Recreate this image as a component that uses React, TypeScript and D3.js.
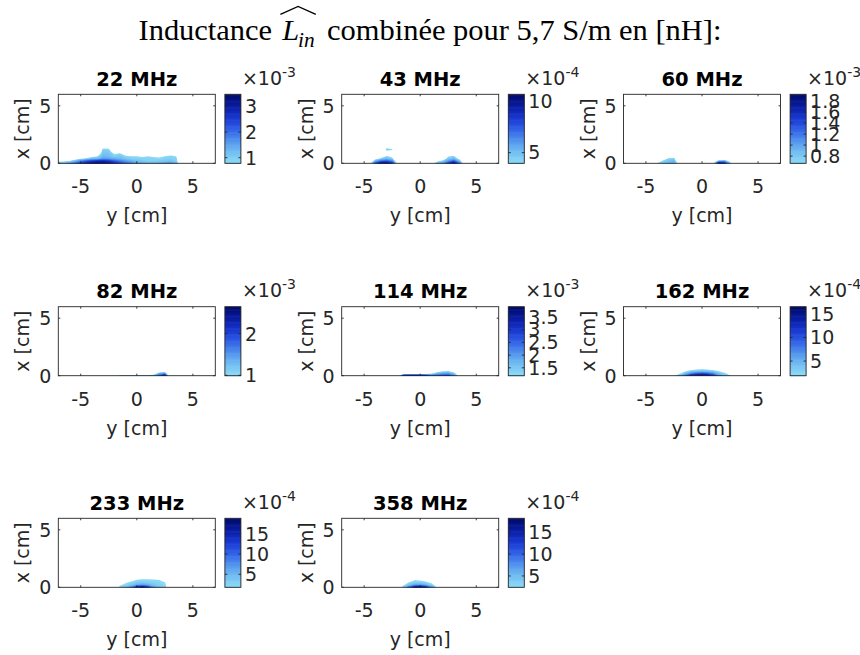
import React, { useEffect, useRef } from "react";
import * as d3 from "d3";

// ---------- data ----------
const titles = ["22 MHz", "43 MHz", "60 MHz", "82 MHz", "114 MHz", "162 MHz", "233 MHz", "358 MHz"];
const exponents = [-3, -4, -3, -3, -3, -4, -4, -4];
const colorMin = [0.78, 3.96, 0.67, 0.99, 1.19, 1.9, 1.8, 2.4];
const colorMax = [3.48, 10.7, 1.92, 2.65, 3.9, 16.5, 18.8, 18.2];
const colorbarTicks = [
  [1, 2, 3],
  [5, 10],
  [0.8, 1, 1.2, 1.4, 1.6, 1.8],
  [1, 2],
  [1.5, 2, 2.5, 3, 3.5],
  [5, 10, 15],
  [5, 10, 15],
  [5, 10, 15],
];
const xTicks = [-5, 0, 5];
const yTicks = [0, 5];
// horizontal grid positions (y [cm]) and vertical grid positions (x [cm])
const yPositions = [-7, -6.5, -6, -5.5, -5, -4.5, -4, -3.5, -3, -2.5, -2, -1.5, -1, -0.5, 0, 0.5, 1, 1.5, 2, 2.5, 3, 3.5, 4, 4.5, 5, 5.5, 6, 6.5, 7];
const xPositions = [0, 0.2, 0.4, 0.6, 0.8, 1.0, 1.2, 1.4];

// values (in units of 10^exponent), one row per xPositions entry
const grid22 = [
  [1.0, 1.2, 1.6, 2.0, 2.6, 3.0, 3.3, 3.45, 3.4, 3.2, 2.8, 2.4, 2.1, 1.8, 1.5, 1.3, 1.2, 1.2, 1.3, 1.5, 1.6, 1.3, 0, 0, 0, 0, 0, 0, 0],
  [0.7, 0.65, 0.8, 1.3, 1.8, 2.2, 2.5, 2.7, 2.8, 2.6, 2.2, 1.9, 1.6, 1.4, 1.2, 1.1, 1.0, 1.0, 1.05, 1.1, 1.2, 1.0, 0, 0, 0, 0, 0, 0, 0],
  [0, 0, 0, 0.3, 0.7, 0.95, 1.2, 1.3, 1.6, 1.5, 1.4, 1.3, 1.1, 1.0, 0.95, 0.9, 0.95, 0.9, 0.85, 0.95, 1.0, 0.95, 0, 0, 0, 0, 0, 0, 0],
  [0, 0, 0, 0, 0.2, 0.27, 0.64, 0.8, 1.3, 1.25, 1.0, 1.1, 0.9, 0.82, 0.8, 0.74, 0.8, 0.74, 0.71, 0.8, 0.9, 0.8, 0, 0, 0, 0, 0, 0, 0],
  [0, 0, 0, 0, 0, 0, 0.3, 0.4, 1.2, 1.15, 0.79, 0.9, 0.5, 0.4, 0.35, 0.3, 0.35, 0.3, 0.3, 0.35, 0.6, 0.4, 0, 0, 0, 0, 0, 0, 0],
  [0, 0, 0, 0, 0, 0, 0, 0, 1.1, 1.05, 0.4, 0.6, 0.2, 0, 0, 0, 0, 0, 0, 0, 0, 0, 0, 0, 0, 0, 0, 0, 0],
  [0, 0, 0, 0, 0, 0, 0, 0, 0.95, 0.9, 0, 0, 0, 0, 0, 0, 0, 0, 0, 0, 0, 0, 0, 0, 0, 0, 0, 0, 0],
  [0, 0, 0, 0, 0, 0, 0, 0, 0.6, 0.5, 0, 0, 0, 0, 0, 0, 0, 0, 0, 0, 0, 0, 0, 0, 0, 0, 0, 0, 0],
];
const grid43 = [
  [0, 0, 0, 0, 0, 3.0, 8, 10.5, 10.5, 9, 3.0, 0, 0, 0, 0, 0, 3.0, 5, 6, 8.5, 10.5, 7, 2, 0, 0, 0, 0, 0, 0],
  [0, 0, 0, 0, 0, 1.5, 5.5, 7, 7.5, 6.5, 1.5, 0, 0, 0, 0, 0, 1.5, 3.5, 4.5, 6, 7.5, 5, 1, 0, 0, 0, 0, 0, 0],
  [0, 0, 0, 0, 0, 0, 3, 4.5, 5.2, 4.5, 0.5, 0, 0, 0, 0, 0, 0, 1, 2.5, 4.8, 5.2, 3.5, 0, 0, 0, 0, 0, 0, 0],
  [0, 0, 0, 0, 0, 0, 0, 2.5, 4.3, 3.5, 0, 0, 0, 0, 0, 0, 0, 0, 0, 3.9, 4.4, 2, 0, 0, 0, 0, 0, 0, 0],
  [0, 0, 0, 0, 0, 0, 0, 0, 2, 1, 0, 0, 0, 0, 0, 0, 0, 0, 0, 0, 2, 0, 0, 0, 0, 0, 0, 0, 0],
  [0, 0, 0, 0, 0, 0, 0, 0, 3.5, 3.0, 0, 0, 0, 0, 0, 0, 0, 0, 0, 0, 0, 0, 0, 0, 0, 0, 0, 0, 0],
  [0, 0, 0, 0, 0, 0, 0, 0, 4.6, 4.2, 0, 0, 0, 0, 0, 0, 0, 0, 0, 0, 0, 0, 0, 0, 0, 0, 0, 0, 0],
  [0, 0, 0, 0, 0, 0, 0, 0, 3.5, 3.0, 0, 0, 0, 0, 0, 0, 0, 0, 0, 0, 0, 0, 0, 0, 0, 0, 0, 0, 0],
];
const grid60 = [
  [0, 0, 0, 0, 0, 0, 0.7, 0.8, 0.9, 0.95, 0.5, 0, 0, 0, 0, 0, 0.6, 1.85, 1.7, 0.85, 0, 0, 0, 0, 0, 0, 0, 0, 0],
  [0, 0, 0, 0, 0, 0, 0.3, 0.72, 0.85, 0.9, 0.3, 0, 0, 0, 0, 0, 0.3, 0.9, 1.0, 0.5, 0, 0, 0, 0, 0, 0, 0, 0, 0],
  [0, 0, 0, 0, 0, 0, 0, 0.5, 0.72, 0.78, 0, 0, 0, 0, 0, 0, 0, 0, 0, 0, 0, 0, 0, 0, 0, 0, 0, 0, 0],
  [0, 0, 0, 0, 0, 0, 0, 0, 0.4, 0.5, 0, 0, 0, 0, 0, 0, 0, 0, 0, 0, 0, 0, 0, 0, 0, 0, 0, 0, 0],
];
const grid82 = [
  [0, 0, 0, 0, 0, 0, 0, 0, 0, 0, 0, 1.2, 1.2, 1.2, 1.2, 1.2, 1.2, 1.3, 1.9, 2.6, 0, 0, 0, 0, 0, 0, 0, 0, 0],
  [0, 0, 0, 0, 0, 0, 0, 0, 0, 0, 0, 0.5, 0.5, 0.5, 0.5, 0.5, 0.5, 0.6, 1.3, 1.5, 0, 0, 0, 0, 0, 0, 0, 0, 0],
  [0, 0, 0, 0, 0, 0, 0, 0, 0, 0, 0, 0, 0, 0, 0, 0, 0, 0, 0.5, 0.6, 0, 0, 0, 0, 0, 0, 0, 0, 0],
];
const grid114 = [
  [0, 0, 0, 0, 0, 0, 0, 0, 0, 0, 0, 3.5, 3.8, 3.8, 3.7, 3.5, 2.5, 2.6, 2.8, 2.9, 2.2, 0.8, 0, 0, 0, 0, 0, 0, 0],
  [0, 0, 0, 0, 0, 0, 0, 0, 0, 0, 0, 0.5, 0.5, 0.5, 0.5, 0.5, 1.0, 1.6, 1.9, 2.0, 1.5, 0.5, 0, 0, 0, 0, 0, 0, 0],
  [0, 0, 0, 0, 0, 0, 0, 0, 0, 0, 0, 0, 0, 0, 0, 0, 0, 0.8, 1.1, 1.2, 0.8, 0, 0, 0, 0, 0, 0, 0, 0],
];
const grid162 = [
  [0, 0, 0, 0, 0, 0, 0, 0, 0, 1.5, 4, 9, 14, 16, 16.4, 16, 13, 7, 4, 2.2, 0, 0, 0, 0, 0, 0, 0, 0, 0],
  [0, 0, 0, 0, 0, 0, 0, 0, 0, 0, 1.5, 4, 7, 9, 10, 9, 7, 4, 2.5, 1, 0, 0, 0, 0, 0, 0, 0, 0, 0],
  [0, 0, 0, 0, 0, 0, 0, 0, 0, 0, 0, 1.5, 3, 3.5, 3.8, 3.5, 3, 1.8, 0, 0, 0, 0, 0, 0, 0, 0, 0, 0, 0],
  [0, 0, 0, 0, 0, 0, 0, 0, 0, 0, 0, 0, 0, 1.2, 1.4, 1.2, 0, 0, 0, 0, 0, 0, 0, 0, 0, 0, 0, 0, 0],
];
const grid233 = [
  [0, 0, 0, 0, 0, 0, 0, 0, 0, 0, 0, 2.5, 4, 8, 16, 18.5, 14, 7, 4, 2.5, 0, 0, 0, 0, 0, 0, 0, 0, 0],
  [0, 0, 0, 0, 0, 0, 0, 0, 0, 0, 0, 1.5, 2.5, 4, 6, 7, 6, 4, 3, 2.2, 0, 0, 0, 0, 0, 0, 0, 0, 0],
  [0, 0, 0, 0, 0, 0, 0, 0, 0, 0, 0, 0, 1.6, 2.5, 3.5, 3.8, 3.5, 3, 2.6, 2.0, 0, 0, 0, 0, 0, 0, 0, 0, 0],
  [0, 0, 0, 0, 0, 0, 0, 0, 0, 0, 0, 0, 0, 1.2, 2.2, 2.4, 2.3, 2.2, 2.0, 1.0, 0, 0, 0, 0, 0, 0, 0, 0, 0],
  [0, 0, 0, 0, 0, 0, 0, 0, 0, 0, 0, 0, 0, 0, 1.0, 1.2, 1.2, 1.2, 1.0, 0, 0, 0, 0, 0, 0, 0, 0, 0, 0],
];
const grid358 = [
  [0, 0, 0, 0, 0, 0, 0, 0, 0, 0, 0, 3.5, 10, 17, 18, 15, 8, 2.0, 0, 0, 0, 0, 0, 0, 0, 0, 0, 0, 0],
  [0, 0, 0, 0, 0, 0, 0, 0, 0, 0, 0, 2.0, 4.5, 7, 7.5, 6, 3.5, 1, 0, 0, 0, 0, 0, 0, 0, 0, 0, 0, 0],
  [0, 0, 0, 0, 0, 0, 0, 0, 0, 0, 0, 0, 2.8, 4, 3.8, 3.2, 2.0, 0, 0, 0, 0, 0, 0, 0, 0, 0, 0, 0, 0],
  [0, 0, 0, 0, 0, 0, 0, 0, 0, 0, 0, 0, 0, 2.6, 2.3, 1.5, 0, 0, 0, 0, 0, 0, 0, 0, 0, 0, 0, 0, 0],
  [0, 0, 0, 0, 0, 0, 0, 0, 0, 0, 0, 0, 0, 1.0, 0.8, 0, 0, 0, 0, 0, 0, 0, 0, 0, 0, 0, 0, 0, 0],
];
const grids = [grid22, grid43, grid60, grid82, grid114, grid162, grid233, grid358];

// ---------- layout ----------
const W = 860;
const H = 655;
const colLeft = [58.3, 341.7, 623.5];
const rowTop = [94.3, 306.7, 518.3];
const axW = 157;
const axH = 69;
const cbOffset = 166.6;
const cbW = 16;
const SANS = "'DejaVu Sans', 'Liberation Sans', Arial, sans-serif";
const SERIF = "'Liberation Serif', 'Times New Roman', serif";
const AX = "#262626";
const FS = 19;
const cmap = d3.interpolateRgbBasis(["#8edcf7", "#6fbbf1", "#437fec", "#1e42e0", "#0a1fae", "#000a6a"]);

export default function App() {
  const ref = useRef<SVGSVGElement>(null);

  useEffect(() => {
    const svg = d3.select(ref.current);
    svg.selectAll("*").remove();
    svg.append("rect").attr("width", W).attr("height", H).attr("fill", "#fff");

    // ---- main title ----
    const tg = svg.append("g");
    const base = 100;
    const gap = 25;
    const t1 = tg.append("text").attr("font-family", SERIF).attr("font-size", base).attr("x", 0).attr("y", 0).text("Inductance");
    const w1 = (t1.node() as SVGTextElement).getComputedTextLength();
    const xL = w1 + gap + 8;
    const tL = tg.append("text").attr("font-family", SERIF).attr("font-style", "italic").attr("font-size", base).attr("x", xL).attr("y", 0).text("L");
    const wL = (tL.node() as SVGTextElement).getComputedTextLength();
    const subX = xL + wL - 4;
    const tS = tg.append("text").attr("font-family", SERIF).attr("font-style", "italic").attr("font-size", base * 0.7).attr("x", subX).attr("y", 22).text("in");
    const wS = (tS.node() as SVGTextElement).getComputedTextLength();
    const x2 = subX + wS + gap + 16;
    const t2 = tg.append("text").attr("font-family", SERIF).attr("font-size", base).attr("x", x2).attr("y", 0).text("combinée pour 5,7 S/m en [nH]:");
    const w2 = (t2.node() as SVGTextElement).getComputedTextLength();
    const total = x2 + w2;
    const hatL = xL - 6;
    const hatR = subX + wS + 4;
    tg.append("path")
      .attr("d", `M${hatL},-84 L${(hatL + hatR) / 2},-110 L${hatR},-84`)
      .attr("fill", "none")
      .attr("stroke", "#000")
      .attr("stroke-width", 4.5);
    const targetW = 583;
    const k = targetW / total;
    tg.attr("transform", `translate(${430 - targetW / 2},40) scale(${k})`);

    // ---- subplots ----
    titles.forEach((title, i) => {
      const row = Math.floor(i / 3);
      const col = i % 3;
      const left = colLeft[col];
      const top = rowTop[row];
      const bottom = top + axH;
      const xs = d3.scaleLinear().domain([-7, 7]).range([left, left + axW]);
      const ys = d3.scaleLinear().domain([0, 6]).range([bottom, top]);
      const g = svg.append("g");

      const clipId = `clip${i}`;
      svg.append("clipPath").attr("id", clipId).append("rect").attr("x", left).attr("y", top).attr("width", axW).attr("height", axH);

      // contour fill
      const grid = grids[i];
      const n = yPositions.length;
      const m = grid.length;
      const values = grid.flat();
      const lo = colorMin[i];
      const hi = colorMax[i];
      const nLev = 24;
      const levels = d3.range(nLev).map((j) => lo + ((hi - lo) * j) / nLev);
      const cs = d3.contours().size([n, m]).thresholds(levels)(values);
      const yStep = yPositions[1] - yPositions[0];
      const xStep = xPositions[1] - xPositions[0];
      const proj = d3.geoTransform({
        point(px: number, py: number) {
          (this as any).stream.point(xs(yPositions[0] + (px - 0.5) * yStep), ys(xPositions[0] + (py - 0.5) * xStep));
        },
      });
      const path = d3.geoPath(proj as any);
      const cg = g.append("g").attr("clip-path", `url(#${clipId})`);
      cs.forEach((c, j) => {
        cg.append("path").attr("d", path(c as any) || "").attr("fill", cmap((j + 0.5) / nLev)).attr("stroke", "none");
      });

      // axes box
      g.append("rect").attr("x", left).attr("y", top).attr("width", axW).attr("height", axH).attr("fill", "none").attr("stroke", AX).attr("stroke-width", 0.9);
      // ticks
      xTicks.forEach((t) => {
        const x = xs(t);
        g.append("line").attr("x1", x).attr("x2", x).attr("y1", bottom).attr("y2", bottom - 2).attr("stroke", AX).attr("stroke-width", 0.9);
        g.append("line").attr("x1", x).attr("x2", x).attr("y1", top).attr("y2", top + 2).attr("stroke", AX).attr("stroke-width", 0.9);
        g.append("text").attr("x", x).attr("y", bottom + 30).attr("text-anchor", "middle").attr("font-family", SANS).attr("font-size", FS).attr("fill", AX).text(String(t));
      });
      yTicks.forEach((t) => {
        const y = ys(t);
        g.append("line").attr("x1", left).attr("x2", left + 2).attr("y1", y).attr("y2", y).attr("stroke", AX).attr("stroke-width", 0.9);
        g.append("line").attr("x1", left + axW).attr("x2", left + axW - 2).attr("y1", y).attr("y2", y).attr("stroke", AX).attr("stroke-width", 0.9);
        g.append("text").attr("x", left - 7).attr("y", y).attr("dy", "0.36em").attr("text-anchor", "end").attr("font-family", SANS).attr("font-size", FS).attr("fill", AX).text(String(t));
      });
      // labels
      g.append("text").attr("x", left + axW / 2).attr("y", bottom + 59).attr("text-anchor", "middle").attr("font-family", SANS).attr("font-size", FS).attr("fill", AX).text("y [cm]");
      g.append("text")
        .attr("transform", `translate(${left - 29},${top + axH / 2}) rotate(-90)`)
        .attr("text-anchor", "middle")
        .attr("font-family", SANS)
        .attr("font-size", FS)
        .attr("fill", AX)
        .text("x [cm]");
      g.append("text").attr("x", left + axW / 2).attr("y", top - 8.5).attr("text-anchor", "middle").attr("font-family", SANS).attr("font-size", 19.5).attr("font-weight", "bold").attr("fill", "#000").text(title);

      // colorbar
      const cbx = left + cbOffset;
      const cbs = d3.scaleLinear().domain([lo, hi]).range([bottom, top]);
      const nb = 80;
      d3.range(nb).forEach((j) => {
        const y0 = bottom - (axH * (j + 1)) / nb;
        g.append("rect").attr("x", cbx).attr("y", y0).attr("width", cbW).attr("height", axH / nb + 0.6).attr("fill", cmap((j + 0.5) / nb));
      });
      g.append("rect").attr("x", cbx).attr("y", top).attr("width", cbW).attr("height", axH).attr("fill", "none").attr("stroke", AX).attr("stroke-width", 0.9);
      colorbarTicks[i].forEach((t) => {
        const y = cbs(t);
        g.append("line").attr("x1", cbx + cbW).attr("x2", cbx + cbW - 2.5).attr("y1", y).attr("y2", y).attr("stroke", AX).attr("stroke-width", 0.9);
        g.append("line").attr("x1", cbx).attr("x2", cbx + 2.5).attr("y1", y).attr("y2", y).attr("stroke", AX).attr("stroke-width", 0.9);
        g.append("text").attr("x", cbx + cbW + 4).attr("y", y).attr("dy", "0.36em").attr("font-family", SANS).attr("font-size", FS).attr("fill", AX).text(String(t));
      });
      const ex = g.append("text").attr("x", cbx + cbW + 1).attr("y", top - 9.5).attr("font-family", SANS).attr("font-size", FS).attr("fill", AX);
      ex.append("tspan").text("×10");
      ex.append("tspan").attr("dy", -8).attr("font-size", 14).text(String(exponents[i]));
    });
  }, []);

  return <svg ref={ref} width={W} height={H} style={{ position: "absolute", left: 0, top: 0, background: "#fff" }} />;
}
